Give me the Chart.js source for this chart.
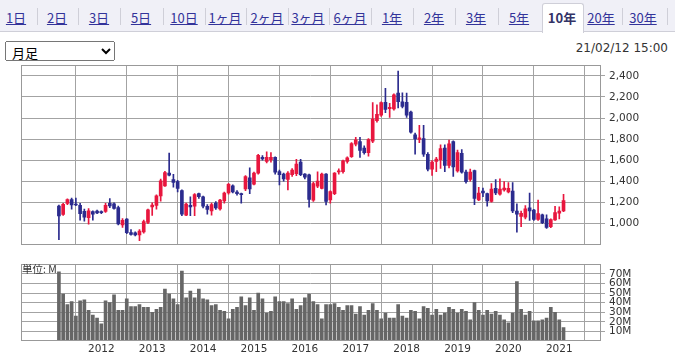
<!DOCTYPE html>
<html><head><meta charset="utf-8">
<script src="https://cdn.jsdelivr.net/npm/chart.js@4.4.1/dist/chart.umd.min.js"></script>
<style>
html,body{margin:0;padding:0;}
body{width:675px;height:353px;position:relative;overflow:hidden;background:#fff;font-family:"Noto Sans CJK JP","DejaVu Sans",sans-serif;}
#tabs{position:absolute;left:0;top:0;width:675px;height:31px;background:#f0f0f7;border-bottom:1px solid #cfcfd8;}
.tab{position:absolute;top:4px;height:27px;line-height:27px;font-size:13px;color:#33339a;text-decoration:underline;white-space:nowrap;transform:translateX(-50%);}
.tab.sel{font-weight:bold;color:#333366;text-decoration:none;}
.sep{position:absolute;top:8px;width:1px;height:17px;background:#cfcfd8;}
#selbox{position:absolute;left:542px;top:3px;width:40px;height:29px;background:#fff;border:1px solid #cfcfd8;border-bottom:none;border-radius:3px 3px 0 0;}
#date{position:absolute;right:7px;top:41px;font-family:"DejaVu Sans",sans-serif;font-size:12px;color:#333;}
#sel{position:absolute;left:5px;top:41px;width:110px;height:20px;font-size:13px;font-family:"Noto Sans CJK JP",sans-serif;padding:0 2px;}
#unit{position:absolute;left:22px;top:263px;font-size:10.5px;color:#333;font-family:"Noto Sans CJK JP",sans-serif;line-height:12px;}
.box{position:absolute;left:0;width:675px;}
</style></head>
<body>
<div id="tabs"></div>
<select id="sel"><option>月足</option></select>
<div id="date">21/02/12 15:00</div>
<div class="box" style="top:55px;height:200px"><canvas id="c1" width="675" height="200"></canvas></div>
<div class="box" style="top:255px;height:98px"><canvas id="c2" width="675" height="98"></canvas></div>
<div id="unit">単位: M</div>
<script>
// ---- data ----
const tabLabels = ["1日","2日","3日","5日","10日","1ヶ月","2ヶ月","3ヶ月","6ヶ月","1年","2年","3年","5年","10年","20年","30年"];
const selectedTab = "10年";
const firstMonth = "2011-03"; // first candle; one candle per month through 2021-02
const openP  = [1167,1087,1190,1227,1185,1173,1116,1057,1113,1119,1110,1116,1191,1188,1152,988,1042,916,913,892,922,1012,1158,1173,1263,1358,1478,1418,1397,1313,1081,1173,1164,1284,1254,1164,1120,1194,1140,1215,1290,1358,1299,1284,1328,1433,1373,1478,1627,1588,1606,1627,1493,1469,1418,1463,1472,1582,1469,1463,1221,1355,1334,1469,1224,1284,1490,1493,1588,1633,1752,1776,1716,1672,1782,1976,2027,2149,2090,2087,2236,2155,2149,2057,1842,1797,1806,1657,1516,1588,1606,1716,1552,1776,1499,1666,1487,1418,1502,1224,1307,1284,1209,1334,1278,1319,1299,1307,1119,1069,1060,1149,1128,1039,1084,1045,970,1036,1098,1119];
const highP  = [1175,1191,1235,1242,1242,1191,1137,1143,1122,1128,1120,1191,1236,1197,1167,1048,1048,943,922,943,1033,1137,1197,1272,1421,1496,1669,1466,1409,1319,1194,1254,1284,1290,1260,1179,1194,1209,1230,1299,1382,1367,1313,1290,1454,1528,1487,1657,1645,1681,1672,1633,1508,1478,1493,1522,1610,1609,1475,1469,1394,1490,1478,1475,1310,1484,1519,1603,1633,1767,1818,1818,1737,1806,2146,2125,2155,2281,2140,2230,2445,2239,2236,2066,1857,1931,1931,1672,1597,1627,1746,1746,1791,1785,1696,1702,1507,1516,1507,1343,1337,1290,1379,1418,1424,1397,1388,1388,1188,1119,1170,1290,1134,1224,1090,1084,1045,1164,1158,1278];
const lowP   = [848,1078,1180,1137,1170,1033,1024,994,1033,1093,1095,1107,1152,1137,988,964,904,890,884,839,910,1000,1078,1137,1212,1352,1451,1346,1299,1075,1075,1075,1075,1239,1149,1090,1081,1134,1128,1194,1278,1290,1269,1194,1313,1284,1366,1469,1600,1576,1582,1469,1367,1403,1319,1448,1454,1454,1424,1155,1209,1340,1328,1176,1194,1275,1469,1478,1573,1627,1737,1627,1657,1639,1767,1961,2015,2051,2006,2075,2096,2096,2006,1857,1657,1767,1636,1499,1457,1493,1522,1493,1528,1448,1487,1478,1382,1403,1179,1218,1254,1164,1203,1275,1269,1307,1290,1104,919,970,1045,1030,1030,1030,1000,955,961,1030,1045,1113];
const closeP = [1072,1182,1228,1176,1176,1093,1060,1122,1090,1101,1104,1173,1167,1143,997,1030,913,898,892,928,1018,1131,1176,1263,1406,1484,1460,1391,1334,1090,1185,1158,1275,1254,1164,1134,1179,1149,1224,1290,1373,1299,1284,1275,1445,1328,1478,1648,1612,1627,1627,1487,1463,1424,1478,1508,1565,1463,1439,1230,1379,1403,1469,1209,1304,1478,1499,1594,1624,1758,1794,1693,1672,1797,1991,2036,2146,2081,2102,2221,2155,2110,2027,1866,1803,1812,1657,1516,1582,1612,1710,1552,1755,1537,1672,1487,1397,1487,1239,1290,1290,1215,1328,1290,1328,1337,1334,1119,1090,1098,1140,1119,1039,1096,1009,964,1039,1104,1119,1218];
const volumeM = [72,49,38,41,26,42,43,32,27,24,18,42,40,48,32,32,44,36,36,38,35,35,30,33,35,54,49,44,38,73,45,52,45,54,44,43,37,38,32,31,23,33,35,46,37,45,32,50,44,29,31,46,41,41,39,44,33,37,45,49,41,38,23,38,38,39,35,32,37,37,28,36,27,32,39,32,23,29,24,24,38,26,24,32,31,23,36,34,27,33,27,29,35,33,29,33,31,22,40,32,27,32,28,31,27,22,19,29,62,33,27,31,21,21,22,24,35,30,22,14];
const priceTicks = [1000,1200,1400,1600,1800,2000,2200,2400];
const volumeTicks = [10,20,30,40,50,60,70];
const yearLabels = ["2012","2013","2014","2015","2016","2017","2018","2019","2020","2021"];

// ---- tabs ----
const tabCenters = [16,57,99,141,184,225,267,308,350,392,434,476,519,562,601,643];
const tabsEl = document.getElementById('tabs');
const sb = document.createElement('div'); sb.id='selbox'; tabsEl.appendChild(sb);
tabLabels.forEach((t,i)=>{
  const d=document.createElement('div'); d.className='tab'+(t===selectedTab?' sel':'');
  d.style.left=tabCenters[i]+'px'; d.textContent=t; tabsEl.appendChild(d);
  if(i<tabLabels.length-1){
    const nx=(tabCenters[i]+tabCenters[i+1])/2;
    if(t!==selectedTab && tabLabels[i+1]!==selectedTab){
      const s=document.createElement('div'); s.className='sep'; s.style.left=Math.round(nx)+'px'; tabsEl.appendChild(s);
    }
  }
});
const s2=document.createElement('div'); s2.className='sep'; s2.style.left='667px'; tabsEl.appendChild(s2);

// ---- month index (0 = Jan 2012) ----
const [fy,fm]=firstMonth.split('-').map(Number);
const monthIdx = openP.map((_,i)=>(fy-2012)*12+(fm-1)+i);
const yearIdx = yearLabels.map(y=>(Number(y)-2012)*12);
const XMIN=-18.94, XMAX=117.6;

Chart.defaults.font.family='"DejaVu Sans", sans-serif';
Chart.defaults.font.size=10.5;
Chart.defaults.color='#333';
const GRID='#a3a3a3';
const boxPlugin={id:'box',afterDraw(c){const a=c.chartArea,ctx=c.ctx;ctx.save();ctx.strokeStyle='#999';ctx.lineWidth=1;
  const l=Math.round(a.left)+0.5,t=Math.round(a.top)+0.5,r=Math.round(a.right)+0.5,b=Math.round(a.bottom)-0.5;
  ctx.strokeRect(l,t,r-l,b-t);ctx.restore();}};

const UP='#e8163e', DOWN='#2b2b8e';
const cols = openP.map((o,i)=>closeP[i]>=o?UP:DOWN);

new Chart(document.getElementById('c1'),{
  type:'bar',
  data:{datasets:[
    {data:monthIdx.map((m,i)=>({x:m,y:[openP[i],closeP[i]]})),backgroundColor:cols,barThickness:3,minBarLength:1,grouped:false},
    {data:monthIdx.map((m,i)=>({x:m,y:[lowP[i],highP[i]]})),backgroundColor:cols,barThickness:1,grouped:false}
  ]},
  options:{responsive:false,animation:false,devicePixelRatio:1,
    layout:{padding:{left:21,top:6,right:0,bottom:0}},
    plugins:{legend:{display:false},tooltip:{enabled:false}},
    scales:{
      x:{type:'linear',min:XMIN,max:XMAX,offset:false,
        afterBuildTicks:s=>{s.ticks=yearIdx.map(v=>({value:v}));},
        afterFit:s=>{s.height=4;},
        ticks:{display:false},grid:{color:GRID,drawTicks:false},border:{display:false}},
      y:{position:'right',min:800,max:2500,
        afterBuildTicks:s=>{s.ticks=priceTicks.map(v=>({value:v}));},
        afterFit:s=>{s.width=75;},
        ticks:{padding:4,autoSkip:false,callback:v=>v.toLocaleString('en-US')},
        grid:{color:GRID,tickLength:5},border:{display:false}}
    }},
  plugins:[boxPlugin]
});

new Chart(document.getElementById('c2'),{
  type:'bar',
  data:{datasets:[{data:monthIdx.map((m,i)=>({x:m,y:volumeM[i]})),backgroundColor:'#666',barThickness:3}]},
  options:{responsive:false,animation:false,devicePixelRatio:1,
    layout:{padding:{left:21,top:6,right:0,bottom:0}},
    plugins:{legend:{display:false},tooltip:{enabled:false}},
    scales:{
      x:{type:'linear',min:XMIN,max:XMAX,offset:false,
        afterBuildTicks:s=>{s.ticks=yearIdx.map(v=>({value:v}));},
        afterFit:s=>{s.height=12;},
        ticks:{padding:2,maxRotation:0,autoSkip:false,callback:v=>String(2012+v/12)},
        grid:{color:GRID,drawTicks:false},border:{display:false}},
      y:{position:'right',min:0,max:80,
        afterBuildTicks:s=>{s.ticks=volumeTicks.map(v=>({value:v}));},
        afterFit:s=>{s.width=75;},
        ticks:{padding:4,autoSkip:false,font:{size:10.5,lineHeight:1},callback:v=>v+'M'},
        grid:{color:GRID,tickLength:5},border:{display:false}}
    }},
  plugins:[boxPlugin]
});
</script>
</body></html>
